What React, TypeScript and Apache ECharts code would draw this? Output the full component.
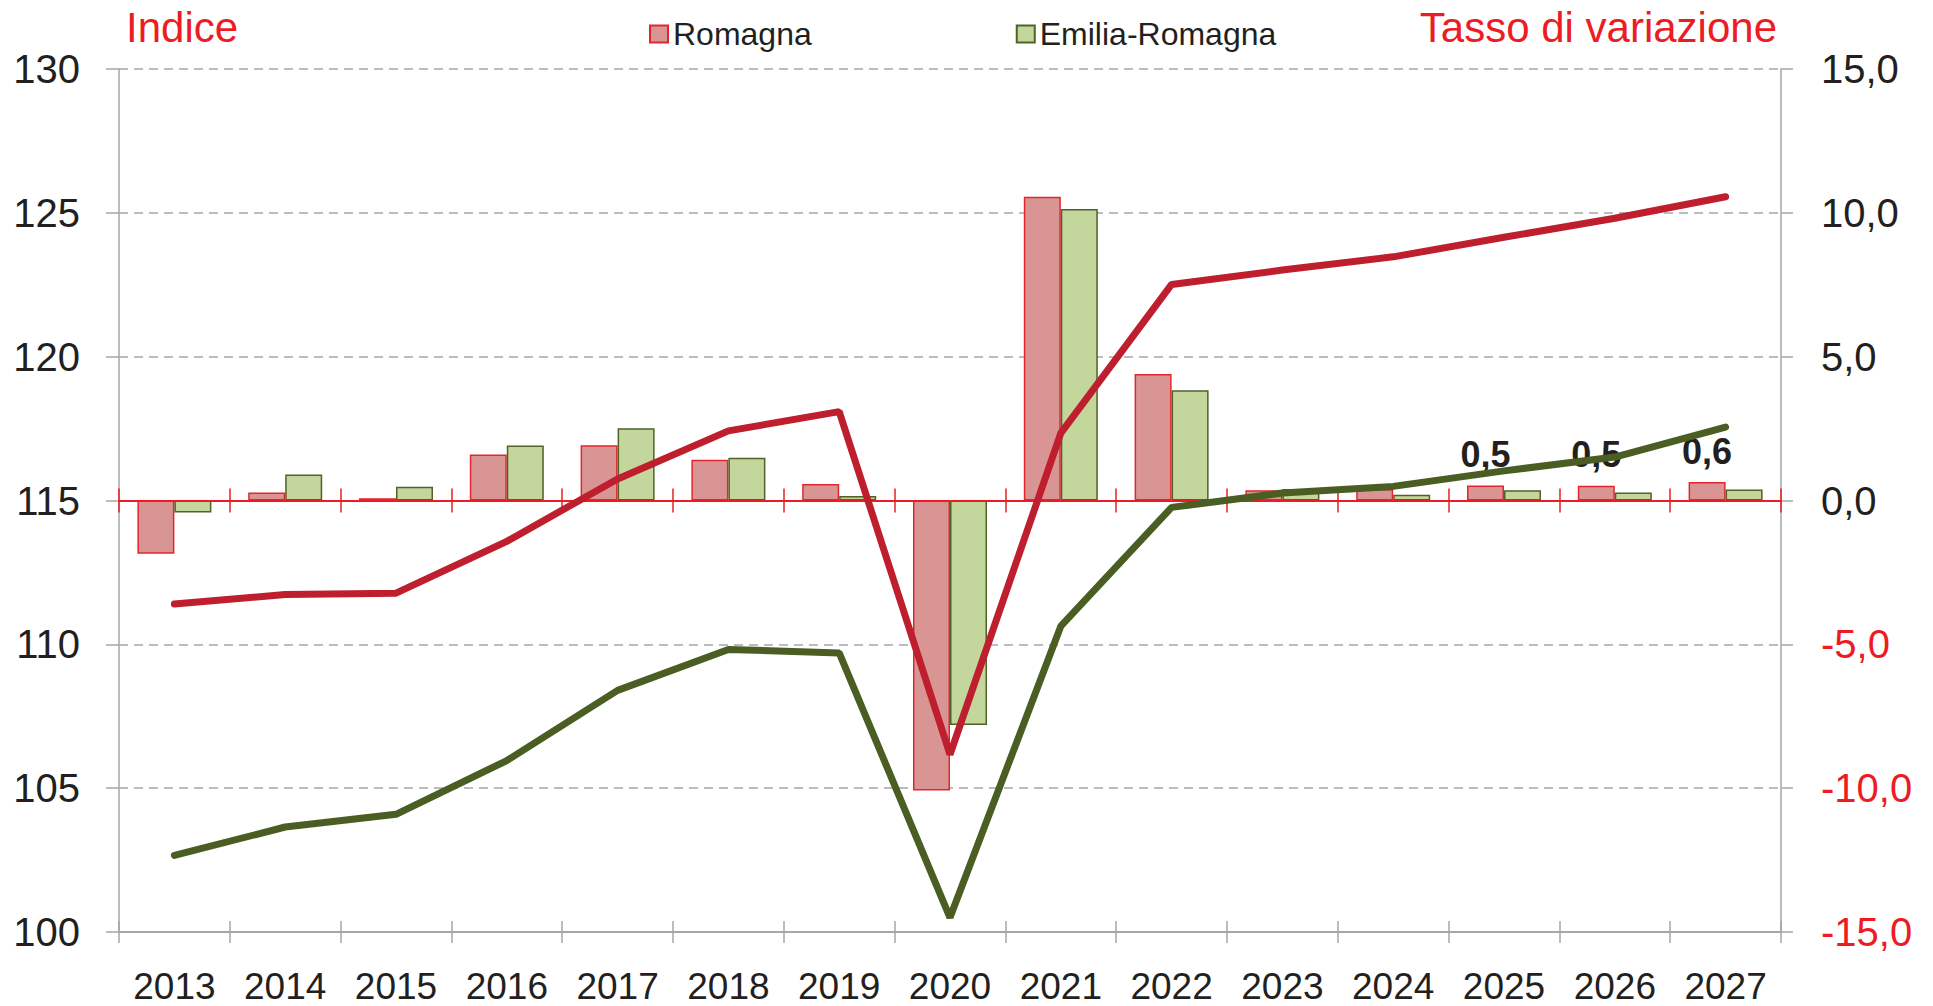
import React, { useEffect, useRef } from "react";
import * as echarts from "echarts";

const categories = ["2013", "2014", "2015", "2016", "2017", "2018", "2019", "2020", "2021", "2022", "2023", "2024", "2025", "2026", "2027"];

// Tasso di variazione (%), right axis
const romagnaVar = [-1.85, 0.28, 0.08, 1.6, 1.92, 1.42, 0.57, -10.08, 10.56, 4.4, 0.36, 0.4, 0.52, 0.51, 0.64];
const emiliaVar = [-0.42, 0.9, 0.48, 1.91, 2.51, 1.49, 0.16, -7.8, 10.13, 3.83, 0.4, 0.2, 0.36, 0.28, 0.38];

// Indice, left axis
const romagnaIdx = [111.4, 111.73, 111.78, 113.58, 115.75, 117.42, 118.09, 106.17, 117.34, 122.51, 123.01, 123.47, 124.15, 124.81, 125.56];
const emiliaIdx = [102.66, 103.65, 104.09, 105.96, 108.4, 109.82, 109.7, 100.5, 110.63, 114.76, 115.26, 115.49, 116.03, 116.51, 117.55];

// years whose Romagna rate is printed above the bar
const labelledYears = ["2025", "2026", "2027"];

const FONT = '"Liberation Sans", Arial, Helvetica, sans-serif';
const RED = "#ED1C24";
const TEXT = "#231F20";
const GRAY = "#A6A6A6";

const fmt = (v: number) => v.toFixed(1).replace(".", ",");

export default function App() {
  const ref = useRef<HTMLDivElement>(null);

  useEffect(() => {
    if (!ref.current) return;
    const chart = echarts.init(ref.current, null, { renderer: "svg" });

    const romagnaData = romagnaVar.map((v, i) =>
      labelledYears.includes(categories[i]) ? { value: v, label: { show: true } } : v
    );

    const option: any = {
      animation: false,
      backgroundColor: "#ffffff",
      grid: { left: 119, right: 152, top: 69, bottom: 74, containLabel: false },
      legend: {
        data: ["Romagna", "Emilia-Romagna"],
        left: 644,
        top: 13,
        icon: "rect",
        itemWidth: 18,
        itemHeight: 17,
        itemGap: 204,
        textStyle: { fontSize: 32, color: TEXT, fontFamily: FONT },
        selectedMode: false,
      },
      graphic: [
        {
          type: "text",
          x: 126,
          y: 27,
          style: {
            text: "Indice",
            fill: RED,
            fontSize: 42,
            fontFamily: FONT,
            textAlign: "left",
            textVerticalAlign: "middle",
            align: "left",
            verticalAlign: "middle",
          },
        },
        {
          type: "text",
          x: 1777,
          y: 27,
          style: {
            text: "Tasso di variazione",
            fill: RED,
            fontSize: 42,
            fontFamily: FONT,
            textAlign: "right",
            textVerticalAlign: "middle",
            align: "right",
            verticalAlign: "middle",
          },
        },
      ],
      xAxis: [
        {
          type: "category",
          data: categories,
          position: "bottom",
          axisLine: { show: true, onZero: false, lineStyle: { color: GRAY, width: 2 } },
          axisTick: { show: true, inside: false, length: 11, lineStyle: { color: GRAY, width: 1.5 } },
          axisLabel: { fontSize: 37, color: TEXT, fontFamily: FONT, margin: 36, interval: 0 },
          splitLine: { show: false },
          z: 1,
        },
        {
          type: "category",
          data: categories,
          position: "bottom",
          axisLine: { show: false, onZero: false },
          axisTick: { show: true, inside: true, length: 11, lineStyle: { color: GRAY, width: 1.5 } },
          axisLabel: { show: false },
          splitLine: { show: false },
          z: 1,
        },
        {
          type: "category",
          data: categories,
          axisLine: { show: true, onZero: true, onZeroAxisIndex: 1, lineStyle: { color: RED, width: 2 } },
          axisTick: { show: true, inside: false, length: 12, lineStyle: { color: RED, width: 1.5 } },
          axisLabel: { show: false },
          splitLine: { show: false },
          z: 3,
        },
        {
          type: "category",
          data: categories,
          axisLine: { show: false, onZero: true, onZeroAxisIndex: 1 },
          axisTick: { show: true, inside: true, length: 12, lineStyle: { color: RED, width: 1.5 } },
          axisLabel: { show: false },
          splitLine: { show: false },
          z: 3,
        },
      ],
      yAxis: [
        {
          type: "value",
          position: "left",
          min: 100,
          max: 130,
          interval: 5,
          axisLine: { show: true, lineStyle: { color: GRAY, width: 1.5 } },
          axisTick: { show: true, inside: false, length: 13, lineStyle: { color: GRAY, width: 1.5 } },
          axisLabel: { fontSize: 40, color: TEXT, fontFamily: FONT, margin: 39 },
          splitLine: { show: true, lineStyle: { color: GRAY, width: 1.5, type: [9, 6] } },
        },
        {
          type: "value",
          position: "right",
          min: -15,
          max: 15,
          interval: 5,
          axisLine: { show: true, lineStyle: { color: GRAY, width: 1.5 } },
          axisTick: { show: true, inside: false, length: 12, lineStyle: { color: GRAY, width: 1.5 } },
          axisLabel: {
            margin: 40,
            fontSize: 40,
            fontFamily: FONT,
            formatter: (v: number) => (v < 0 ? `{n|${fmt(v)}}` : `{p|${fmt(v)}}`),
            rich: {
              n: { color: RED, fontSize: 40, fontFamily: FONT },
              p: { color: TEXT, fontSize: 40, fontFamily: FONT },
            },
          },
          splitLine: { show: false },
        },
      ],
      series: [
        {
          name: "Romagna",
          type: "bar",
          xAxisIndex: 0,
          yAxisIndex: 1,
          barWidth: 37,
          barGap: "0%",
          itemStyle: { color: "#D99594", borderColor: "#E3262D", borderWidth: 1.5 },
          label: {
            show: false,
            position: "top",
            distance: 13,
            fontSize: 36,
            fontWeight: "bold",
            fontFamily: FONT,
            color: TEXT,
            formatter: (p: any) => fmt(Number(p.value)),
          },
          data: romagnaData,
          z: 2,
        },
        {
          name: "Emilia-Romagna",
          type: "bar",
          xAxisIndex: 0,
          yAxisIndex: 1,
          barWidth: 37,
          barGap: "0%",
          itemStyle: { color: "#C3D69B", borderColor: "#4F6228", borderWidth: 1.5 },
          data: emiliaVar,
          z: 2,
        },
        {
          name: "Indice Romagna",
          type: "line",
          xAxisIndex: 0,
          yAxisIndex: 0,
          symbol: "none",
          lineStyle: { color: "#BE1E2D", width: 7, cap: "round" },
          data: romagnaIdx,
          z: 5,
        },
        {
          name: "Indice Emilia-Romagna",
          type: "line",
          xAxisIndex: 0,
          yAxisIndex: 0,
          symbol: "none",
          lineStyle: { color: "#4A5D23", width: 7, cap: "round" },
          data: emiliaIdx,
          z: 5,
        },
      ],
    };

    chart.setOption(option);
    return () => chart.dispose();
  }, []);

  return (
    <div
      ref={ref}
      style={{ position: "fixed", left: 0, top: 0, width: 1933, height: 1006, background: "#fff" }}
    />
  );
}
